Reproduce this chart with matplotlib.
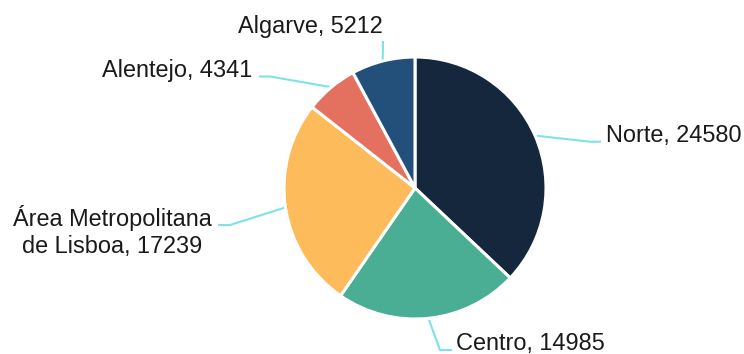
import numpy as np
import matplotlib
matplotlib.use("Agg")
import matplotlib.pyplot as plt

plt.rcParams['font.family'] = ['Liberation Sans', 'DejaVu Sans']

regions = ["Norte", "Centro", "Área Metropolitana\nde Lisboa", "Alentejo", "Algarve"]
values = [24580, 14985, 17239, 4341, 5212]
colors = ["#14273d", "#4aae95", "#fdbb5b", "#e4705f", "#23507b"]

W, H = 744, 354
fig = plt.figure(figsize=(W / 100, H / 100), dpi=100)
ax = fig.add_axes([0, 0, 1, 1])

cx, cy, r = 415, H - 188, 131
wedges, _ = ax.pie(values, colors=colors, startangle=90, counterclock=False,
                   center=(cx, cy), radius=r,
                   wedgeprops=dict(edgecolor="white", linewidth=2.2))
ax.set_xlim(0, W)
ax.set_ylim(0, H)
ax.set_aspect("equal")
ax.axis("off")

# label layout (pixel positions, y measured from top): elbow, line end,
# text anchor (baseline of the last text line), alignment
layout = [
    ((590, 141.7), (601, 141.7), (606, 141.7), "left"),
    ((440, 350), (452, 350), (456.5, 350), "left"),
    ((230, 225), (218, 225), (112.5, 253), "center"),
    ((270, 76.5), (259, 76.5), (252.5, 76.5), "right"),
    ((383, 41), (383, 41), (310.5, 32.7), "center"),
]

line_color = "#7fe2e4"
for w, name, val, (elbow, end, txt, ha) in zip(wedges, regions, values, layout):
    mid = np.deg2rad((w.theta1 + w.theta2) / 2)
    sx, sy = cx + (r + 1) * np.cos(mid), cy + (r + 1) * np.sin(mid)
    ax.plot([sx, elbow[0], end[0]], [sy, H - elbow[1], H - end[1]],
            color=line_color, lw=1.5, solid_capstyle="butt", zorder=0)
    ax.text(txt[0], H - txt[1], f"{name}, {val}", ha=ha, va="baseline",
            multialignment="center", fontsize=16.9, color="#1a1a1a")

fig.savefig("out.png", dpi=100)
